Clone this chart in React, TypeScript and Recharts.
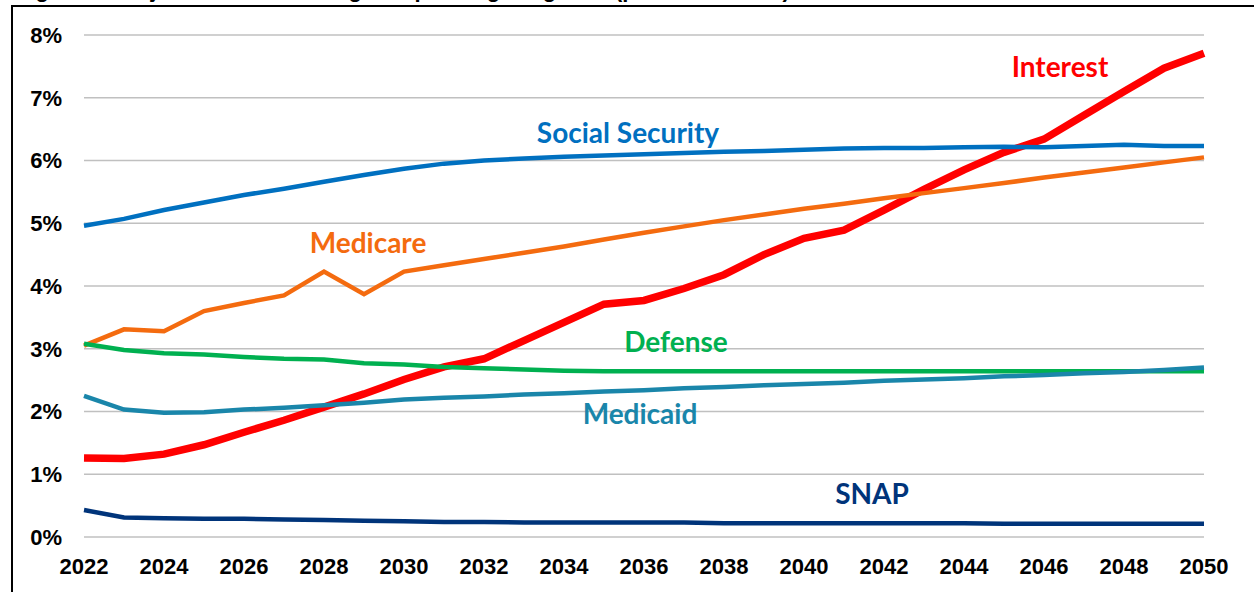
import { LineChart, Line, XAxis, YAxis, CartesianGrid, ReferenceDot } from 'recharts'

const years = [
  2022, 2023, 2024, 2025, 2026, 2027, 2028, 2029, 2030, 2031, 2032, 2033, 2034, 2035, 2036,
  2037, 2038, 2039, 2040, 2041, 2042, 2043, 2044, 2045, 2046, 2047, 2048, 2049, 2050,
]

const socialSecurity = [
  4.96, 5.07, 5.21, 5.33, 5.45, 5.55, 5.66, 5.77, 5.87, 5.95, 6.0, 6.03, 6.06, 6.08, 6.1,
  6.12, 6.14, 6.15, 6.17, 6.19, 6.2, 6.2, 6.21, 6.22, 6.21, 6.23, 6.25, 6.23, 6.23,
]
const medicare = [
  3.05, 3.31, 3.28, 3.6, 3.73, 3.85, 4.23, 3.87, 4.23, 4.33, 4.43, 4.53, 4.63, 4.74, 4.85,
  4.95, 5.05, 5.14, 5.23, 5.31, 5.4, 5.48, 5.56, 5.64, 5.73, 5.81, 5.89, 5.97, 6.05,
]
const interest = [
  1.26, 1.25, 1.32, 1.47, 1.67, 1.86, 2.07, 2.28, 2.51, 2.71, 2.84, 3.13, 3.42, 3.71, 3.77,
  3.96, 4.18, 4.5, 4.76, 4.89, 5.21, 5.54, 5.85, 6.13, 6.34, 6.72, 7.1, 7.47, 7.71,
]
const defense = [
  3.08, 2.98, 2.93, 2.91, 2.87, 2.84, 2.83, 2.77, 2.75, 2.71, 2.69, 2.67, 2.65, 2.64, 2.64,
  2.64, 2.64, 2.64, 2.64, 2.64, 2.64, 2.64, 2.64, 2.64, 2.64, 2.64, 2.64, 2.64, 2.64,
]
const medicaid = [
  2.25, 2.03, 1.98, 1.99, 2.03, 2.06, 2.1, 2.14, 2.19, 2.22, 2.24, 2.27, 2.29, 2.32, 2.34,
  2.37, 2.39, 2.42, 2.44, 2.46, 2.49, 2.51, 2.53, 2.56, 2.58, 2.61, 2.63, 2.66, 2.7,
]
const snap = [
  0.43, 0.31, 0.3, 0.29, 0.29, 0.28, 0.27, 0.26, 0.25, 0.24, 0.24, 0.23, 0.23, 0.23, 0.23,
  0.23, 0.22, 0.22, 0.22, 0.22, 0.22, 0.22, 0.22, 0.21, 0.21, 0.21, 0.21, 0.21, 0.21,
]

const xTicks = [2022, 2024, 2026, 2028, 2030, 2032, 2034, 2036, 2038, 2040, 2042, 2044, 2046, 2048, 2050]
const yTicks = [0, 1, 2, 3, 4, 5, 6, 7, 8]

// label text, colour, position in data units
const labels = [
  { text: 'Interest', color: '#FF0000', x: 2046.4, y: 7.49 },
  { text: 'Social Security', color: '#0070C0', x: 2035.6, y: 6.44 },
  { text: 'Medicare', color: '#F46B0F', x: 2029.1, y: 4.69 },
  { text: 'Defense', color: '#00B050', x: 2036.8, y: 3.11 },
  { text: 'Medicaid', color: '#1A86AA', x: 2035.9, y: 1.96 },
  { text: 'SNAP', color: '#00347A', x: 2041.7, y: 0.69 },
]

const data = years.map((year, i) => ({
  year,
  socialSecurity: socialSecurity[i],
  medicare: medicare[i],
  interest: interest[i],
  defense: defense[i],
  medicaid: medicaid[i],
  snap: snap[i],
}))

const tickFont = { fontFamily: '"Liberation Sans", Arial, sans-serif', fontSize: 22, fontWeight: 700, fill: '#000' }

export default function App() {
  return (
    <div style={{ position: 'absolute', left: 0, top: 0, width: 1254, height: 592, overflow: 'hidden', background: '#fff' }}>
      <div
        style={{
          position: 'absolute',
          left: 16,
          top: -21,
          fontFamily: '"Liberation Sans", Arial, sans-serif',
          fontSize: 22,
          lineHeight: '22px',
          fontWeight: 700,
          whiteSpace: 'nowrap',
        }}
      >
        Figure 1. Projected Costs of Largest Spending Programs (percent of GDP)
      </div>
      <div
        style={{
          position: 'absolute',
          left: 11,
          top: 5,
          width: 2000,
          height: 2000,
          borderTop: '2px solid #000',
          borderLeft: '2px solid #000',
        }}
      />
      <div style={{ position: 'absolute', left: 0, top: 0 }}>
        <LineChart width={1254} height={592} data={data} margin={{ top: 35, right: 50, bottom: 15, left: 0 }}>
          <CartesianGrid vertical={false} stroke="#C0C0C0" strokeWidth={1.5} />
          <XAxis
            dataKey="year"
            type="number"
            domain={[2022, 2050]}
            ticks={xTicks}
            axisLine={false}
            tickLine={false}
            tickSize={0}
            tickMargin={21}
            height={40}
            tick={tickFont}
            interval={0}
          />
          <YAxis
            domain={[0, 8]}
            ticks={yTicks}
            axisLine={false}
            tickLine={false}
            tickSize={0}
            tickMargin={22}
            width={84}
            tick={tickFont}
            tickFormatter={(v) => `${v}%`}
          />
          <Line type="linear" dataKey="interest" stroke="#FF0000" strokeWidth={7.5} dot={false} isAnimationActive={false} />
          <Line type="linear" dataKey="socialSecurity" stroke="#0070C0" strokeWidth={4.5} dot={false} isAnimationActive={false} />
          <Line type="linear" dataKey="medicare" stroke="#F46B0F" strokeWidth={4.5} dot={false} isAnimationActive={false} />
          <Line type="linear" dataKey="defense" stroke="#00B050" strokeWidth={4.5} dot={false} isAnimationActive={false} />
          <Line type="linear" dataKey="medicaid" stroke="#1A86AA" strokeWidth={4.5} dot={false} isAnimationActive={false} />
          <Line type="linear" dataKey="snap" stroke="#00347A" strokeWidth={4.5} dot={false} isAnimationActive={false} />
          {labels.map((l) => (
            <ReferenceDot
              key={l.text}
              x={l.x}
              y={l.y}
              r={0}
              stroke="none"
              fill="none"
              label={{
                value: l.text,
                position: 'center',
                fill: l.color,
                fontSize: 28,
                fontWeight: 700,
                fontFamily: 'Lato, sans-serif',
              }}
            />
          ))}
        </LineChart>
      </div>
    </div>
  )
}
